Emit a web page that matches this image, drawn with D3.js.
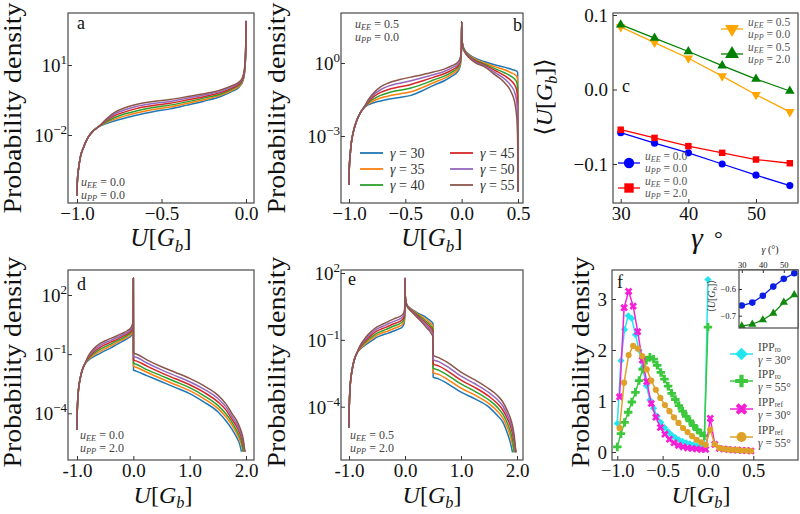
<!DOCTYPE html>
<html><head><meta charset="utf-8">
<script src="https://cdn.jsdelivr.net/npm/d3@7"></script>
<style>html,body{margin:0;padding:0;background:#fff;} svg{display:block;}</style>
</head><body>
<svg id="fig" width="800" height="514" xmlns="http://www.w3.org/2000/svg"></svg>
<script>
// ================= DATA =================
const gammaLabels = ["30", "35", "40", "45", "50", "55"];
const curveColors = ["#1f77b4", "#ff7f0e", "#2ca02c", "#d62728", "#9467bd", "#8c564b"];

// ---- panel a : uEE=0.0, uPP=0.0 (log10 of probability density) ----
const aU = [-1.0, -0.998, -0.99, -0.98, -0.96, -0.93, -0.9, -0.87, -0.83, -0.78, -0.72, -0.65, -0.55, -0.45, -0.35, -0.25, -0.15, -0.08, -0.04, -0.02, -0.01, -0.004, -0.001, 0.0];
const aLog30 = [-4.6, -4.0, -3.4, -2.95, -2.5, -2.05, -1.8, -1.63, -1.52, -1.40, -1.28, -1.15, -1.00, -0.88, -0.72, -0.55, -0.35, -0.12, 0.06, 0.28, 0.58, 1.08, 1.90, 2.88];
const aLog35 = [-4.6, -4.0, -3.4, -2.95, -2.5, -2.05, -1.8, -1.63, -1.48, -1.33, -1.19, -1.06, -0.91, -0.80, -0.65, -0.49, -0.29, -0.07, 0.10, 0.32, 0.62, 1.12, 1.94, 2.88];
const aLog40 = [-4.6, -4.0, -3.4, -2.95, -2.5, -2.05, -1.8, -1.63, -1.45, -1.26, -1.10, -0.97, -0.82, -0.72, -0.58, -0.42, -0.24, -0.02, 0.15, 0.36, 0.66, 1.16, 1.98, 2.89];
const aLog45 = [-4.6, -4.0, -3.4, -2.95, -2.5, -2.05, -1.8, -1.63, -1.41, -1.18, -1.02, -0.87, -0.74, -0.64, -0.50, -0.36, -0.18, 0.02, 0.19, 0.40, 0.70, 1.20, 2.02, 2.89];
const aLog50 = [-4.6, -4.0, -3.4, -2.95, -2.5, -2.05, -1.8, -1.63, -1.38, -1.11, -0.93, -0.78, -0.65, -0.56, -0.43, -0.29, -0.13, 0.07, 0.24, 0.44, 0.74, 1.24, 2.06, 2.90];
const aLog55 = [-4.6, -4.0, -3.4, -2.95, -2.5, -2.05, -1.8, -1.63, -1.34, -1.04, -0.84, -0.69, -0.56, -0.48, -0.36, -0.23, -0.07, 0.12, 0.28, 0.48, 0.78, 1.28, 2.10, 2.90];

// ---- panel b : uEE=0.5, uPP=0.0 ----
const bU = [-1.0, -0.998, -0.99, -0.98, -0.96, -0.93, -0.9, -0.87, -0.83, -0.78, -0.72, -0.65, -0.55, -0.45, -0.35, -0.25, -0.15, -0.08, -0.04, -0.02, -0.008, -0.002, 0.0, 0.003, 0.01, 0.03, 0.07, 0.12, 0.2, 0.3, 0.38, 0.44, 0.47, 0.49, 0.497, 0.5];
const bLog30 = [-5.0, -4.4, -3.8, -3.3, -2.8, -2.35, -2.05, -1.85, -1.72, -1.63, -1.56, -1.49, -1.42, -1.33, -1.14, -0.92, -0.72, -0.52, -0.38, -0.22, 0.02, 0.52, 1.7, 1.0, 0.72, 0.52, 0.34, 0.2, 0.06, -0.08, -0.17, -0.26, -0.3, -0.34, -0.4, -5.3];
const bLog35 = [-5.0, -4.4, -3.8, -3.3, -2.8, -2.35, -2.05, -1.85, -1.68, -1.55, -1.44, -1.36, -1.27, -1.18, -1.01, -0.81, -0.62, -0.44, -0.30, -0.15, 0.08, 0.56, 1.7, 0.99, 0.71, 0.5, 0.31, 0.16, 0.0, -0.16, -0.28, -0.40, -0.47, -0.55, -0.7, -5.3];
const bLog40 = [-5.0, -4.4, -3.8, -3.3, -2.8, -2.35, -2.05, -1.85, -1.64, -1.47, -1.33, -1.22, -1.12, -1.03, -0.88, -0.70, -0.53, -0.35, -0.22, -0.08, 0.14, 0.60, 1.7, 0.98, 0.7, 0.48, 0.28, 0.12, -0.04, -0.24, -0.4, -0.55, -0.66, -0.8, -1.05, -5.3];
const bLog45 = [-5.0, -4.4, -3.8, -3.3, -2.8, -2.35, -2.05, -1.85, -1.60, -1.38, -1.21, -1.09, -0.98, -0.88, -0.74, -0.59, -0.43, -0.27, -0.15, -0.02, 0.20, 0.64, 1.7, 0.97, 0.68, 0.46, 0.25, 0.09, -0.08, -0.32, -0.52, -0.73, -0.9, -1.15, -1.5, -5.3];
const bLog50 = [-5.0, -4.4, -3.8, -3.3, -2.8, -2.35, -2.05, -1.85, -1.56, -1.30, -1.10, -0.95, -0.83, -0.73, -0.61, -0.48, -0.34, -0.18, -0.07, 0.05, 0.26, 0.68, 1.7, 0.96, 0.67, 0.44, 0.23, 0.05, -0.11, -0.41, -0.65, -0.95, -1.2, -1.65, -2.2, -5.3];
const bLog55 = [-5.0, -4.4, -3.8, -3.3, -2.8, -2.35, -2.05, -1.85, -1.52, -1.22, -0.98, -0.82, -0.68, -0.58, -0.48, -0.37, -0.24, -0.10, 0.01, 0.12, 0.32, 0.72, 1.7, 0.95, 0.65, 0.42, 0.2, 0.02, -0.15, -0.5, -0.8, -1.2, -1.6, -2.3, -3.2, -5.3];

// ---- panel c : mean U vs gamma ----
const cGamma = [30, 35, 40, 45, 50, 55];
const cEE05PP00 = [0.084, 0.063, 0.042, 0.018, -0.007, -0.030];
const cEE05PP20 = [0.087, 0.069, 0.051, 0.032, 0.014, -0.002];
const cEE00PP00 = [-0.058, -0.072, -0.085, -0.100, -0.115, -0.129];
const cEE00PP20 = [-0.054, -0.065, -0.076, -0.085, -0.094, -0.099];

// ---- panel d : uEE=0.0, uPP=2.0 ----
const dU = [-1.0, -0.998, -0.99, -0.98, -0.96, -0.93, -0.9, -0.86, -0.8, -0.7, -0.6, -0.5, -0.4, -0.3, -0.2, -0.1, -0.05, -0.02, -0.008, -0.002, 0.0, 0.003, 0.05, 0.25, 0.5, 0.75, 1.0, 1.25, 1.5, 1.65, 1.75, 1.83, 1.88, 1.92, 1.95, 1.98];
const dLog30 = [-4.85, -4.2, -3.5, -3.0, -2.5, -2.05, -1.75, -1.5, -1.32, -1.12, -0.97, -0.82, -0.68, -0.52, -0.36, -0.2, -0.1, 0.02, 0.2, 0.6, 2.85, -1.81, -1.86, -2.1, -2.4, -2.7, -3.0, -3.42, -3.92, -4.4, -4.8, -5.2, -5.5, -5.95, null, null];
const dLog35 = [-4.85, -4.2, -3.5, -3.0, -2.5, -2.05, -1.75, -1.5, -1.28, -1.04, -0.87, -0.72, -0.58, -0.43, -0.28, -0.12, -0.02, 0.11, 0.28, 0.66, 2.85, -1.62, -1.66, -1.93, -2.25, -2.55, -2.85, -3.25, -3.75, -4.2, -4.6, -5.0, -5.3, -5.6, -5.95, null];
const dLog40 = [-4.85, -4.2, -3.5, -3.0, -2.5, -2.05, -1.75, -1.5, -1.23, -0.96, -0.77, -0.62, -0.49, -0.34, -0.20, -0.04, 0.07, 0.20, 0.37, 0.73, 2.85, -1.47, -1.51, -1.8, -2.1, -2.4, -2.7, -3.1, -3.6, -4.05, -4.45, -4.85, -5.15, -5.45, -5.95, null];
const dLog45 = [-4.85, -4.2, -3.5, -3.0, -2.5, -2.05, -1.75, -1.5, -1.19, -0.88, -0.68, -0.52, -0.39, -0.26, -0.11, 0.04, 0.15, 0.30, 0.45, 0.79, 2.85, -1.3, -1.34, -1.62, -1.95, -2.25, -2.55, -2.93, -3.42, -3.85, -4.3, -4.65, -4.95, -5.25, -5.6, -5.95];
const dLog50 = [-4.85, -4.2, -3.5, -3.0, -2.5, -2.05, -1.75, -1.5, -1.14, -0.80, -0.58, -0.42, -0.30, -0.17, -0.03, 0.12, 0.24, 0.39, 0.54, 0.86, 2.85, -1.12, -1.16, -1.46, -1.8, -2.1, -2.4, -2.77, -3.25, -3.7, -4.15, -4.5, -4.8, -5.1, -5.45, -5.95];
const dLog55 = [-4.85, -4.2, -3.5, -3.0, -2.5, -2.05, -1.75, -1.5, -1.10, -0.72, -0.48, -0.32, -0.20, -0.08, 0.05, 0.20, 0.32, 0.48, 0.62, 0.92, 2.85, -0.95, -0.99, -1.3, -1.64, -1.93, -2.23, -2.6, -3.08, -3.55, -4.0, -4.35, -4.65, -4.95, -5.3, -5.95];

// ---- panel e : uEE=0.5, uPP=2.0 ----
const eU = [-1.0, -0.998, -0.99, -0.98, -0.96, -0.93, -0.9, -0.86, -0.8, -0.7, -0.6, -0.5, -0.4, -0.3, -0.2, -0.1, -0.05, -0.02, -0.008, -0.002, 0.0, 0.003, 0.01, 0.03, 0.08, 0.15, 0.25, 0.35, 0.42, 0.47, 0.5, 0.503, 0.6, 0.75, 1.0, 1.25, 1.5, 1.65, 1.75, 1.83, 1.88, 1.92, 1.95, 1.98];
const eLog30 = [-4.94, -4.3, -3.6, -3.1, -2.6, -2.15, -1.85, -1.6, -1.42, -1.22, -1.05, -0.88, -0.78, -0.7, -0.6, -0.5, -0.42, -0.3, -0.12, 0.3, 1.76, 1.1, 0.85, 0.6, 0.45, 0.32, 0.18, 0.05, -0.08, -0.18, -0.27, -2.67, -2.75, -2.95, -3.35, -3.65, -4.02, -4.4, -4.7, -5.2, -5.6, -6.05, null, null];
const eLog35 = [-4.94, -4.3, -3.6, -3.1, -2.6, -2.15, -1.85, -1.6, -1.39, -1.15, -0.96, -0.79, -0.68, -0.60, -0.49, -0.39, -0.31, -0.20, -0.02, 0.36, 1.76, 1.09, 0.84, 0.59, 0.43, 0.29, 0.13, -0.03, -0.17, -0.29, -0.39, -2.47, -2.55, -2.76, -3.17, -3.48, -3.86, -4.2, -4.52, -4.95, -5.3, -5.7, -6.05, null];
const eLog40 = [-4.94, -4.3, -3.6, -3.1, -2.6, -2.15, -1.85, -1.6, -1.35, -1.08, -0.88, -0.70, -0.59, -0.49, -0.38, -0.28, -0.20, -0.09, 0.07, 0.43, 1.76, 1.08, 0.83, 0.58, 0.41, 0.26, 0.08, -0.11, -0.27, -0.40, -0.51, -2.27, -2.36, -2.57, -2.98, -3.31, -3.7, -4.03, -4.34, -4.75, -5.1, -5.5, -6.05, null];
const eLog45 = [-4.94, -4.3, -3.6, -3.1, -2.6, -2.15, -1.85, -1.6, -1.32, -1.02, -0.79, -0.60, -0.49, -0.39, -0.28, -0.18, -0.10, 0.01, 0.17, 0.49, 1.76, 1.07, 0.82, 0.57, 0.40, 0.24, 0.02, -0.19, -0.36, -0.50, -0.63, -2.08, -2.17, -2.38, -2.81, -3.14, -3.54, -3.86, -4.16, -4.55, -4.85, -5.2, -5.6, -6.05];
const eLog50 = [-4.94, -4.3, -3.6, -3.1, -2.6, -2.15, -1.85, -1.6, -1.28, -0.95, -0.71, -0.51, -0.40, -0.28, -0.17, -0.07, 0.01, 0.12, 0.26, 0.56, 1.76, 1.06, 0.81, 0.56, 0.38, 0.21, -0.03, -0.27, -0.46, -0.61, -0.75, -1.88, -1.98, -2.19, -2.63, -2.97, -3.37, -3.68, -3.98, -4.38, -4.68, -5.02, -5.45, -6.05];
const eLog55 = [-4.94, -4.3, -3.6, -3.1, -2.6, -2.15, -1.85, -1.6, -1.25, -0.88, -0.62, -0.42, -0.30, -0.18, -0.06, 0.04, 0.12, 0.22, 0.36, 0.62, 1.76, 1.05, 0.8, 0.55, 0.36, 0.18, -0.08, -0.35, -0.55, -0.72, -0.87, -1.69, -1.8, -2.0, -2.45, -2.8, -3.2, -3.5, -3.8, -4.2, -4.5, -4.85, -5.3, -6.05];

// ---- panel f : linear densities ----
const fUro = [-1.0, -0.96, -0.92, -0.88, -0.84, -0.80, -0.76, -0.72, -0.68, -0.64, -0.60, -0.56, -0.52, -0.48, -0.44, -0.40, -0.36, -0.32, -0.28, -0.24, -0.20, -0.16, -0.12, -0.08, -0.04, 0.00];
const fRo30 = [0.56, 1.79, 2.40, 2.67, 2.62, 2.30, 2.00, 1.65, 1.30, 1.02, 0.86, 0.70, 0.58, 0.48, 0.40, 0.33, 0.28, 0.24, 0.21, 0.18, 0.16, 0.14, 0.12, 0.11, 0.10, 3.38];
const fRo55 = [0.10, 0.36, 0.58, 0.78, 0.98, 1.17, 1.40, 1.62, 1.80, 1.86, 1.82, 1.70, 1.56, 1.43, 1.29, 1.15, 1.03, 0.91, 0.80, 0.70, 0.61, 0.52, 0.44, 0.37, 0.32, 2.45];
const fUref = [-0.975, -0.925, -0.875, -0.825, -0.775, -0.725, -0.675, -0.625, -0.575, -0.525, -0.475, -0.425, -0.375, -0.325, -0.275, -0.225, -0.175, -0.125, -0.075, -0.025, 0.025, 0.075, 0.125, 0.175, 0.225, 0.275, 0.325, 0.375, 0.425, 0.475];
const fRef30 = [1.08, 2.83, 3.15, 2.86, 2.36, 1.80, 1.38, 0.95, 0.68, 0.48, 0.35, 0.25, 0.18, 0.13, 0.10, 0.08, 0.07, 0.06, 0.05, 0.05, 0.66, 0.15, 0.07, 0.06, 0.05, 0.04, 0.04, 0.03, 0.03, 0.02];
const fRef55 = [0.47, 1.36, 1.90, 2.08, 2.03, 1.88, 1.62, 1.40, 1.22, 1.06, 0.92, 0.80, 0.68, 0.57, 0.47, 0.39, 0.31, 0.24, 0.19, 0.14, 0.44, 0.15, 0.08, 0.06, 0.05, 0.04, 0.04, 0.03, 0.03, 0.02];
// inset
const insetGamma = [30, 35, 40, 45, 50, 55];
const insetBlue = [-0.662, -0.651, -0.625, -0.591, -0.562, -0.541];
const insetGreen = [-0.739, -0.732, -0.716, -0.691, -0.650, -0.622];

// ================= DRAWING =================
const FONT = "'Liberation Serif','DejaVu Serif','Times New Roman',serif";
const svg = d3.select("#fig");
const defs = svg.append("defs");
const FRAME = "#4a4a4a";

function mkClip(id, box) {
  defs.append("clipPath").attr("id", id).append("rect")
    .attr("x", box.l).attr("y", box.t).attr("width", box.r - box.l).attr("height", box.b - box.t);
}
function frame(g, box, fill) {
  g.append("rect").attr("x", box.l).attr("y", box.t).attr("width", box.r - box.l).attr("height", box.b - box.t)
    .attr("fill", fill || "none").attr("stroke", FRAME).attr("stroke-width", 1.2);
}
function styleAxis(sel, size) {
  sel.select(".domain").remove();
  sel.selectAll(".tick line").attr("stroke", "#333").attr("stroke-width", 1);
  sel.selectAll(".tick text").attr("font-family", FONT).attr("font-size", size).attr("fill", "#111");
}
function xAxis(g, x, box, vals, labels, size, pad) {
  const ax = d3.axisBottom(x).tickValues(vals).tickFormat((d, i) => labels[i])
    .tickSizeInner(-4).tickSizeOuter(0).tickPadding(pad === undefined ? 3.5 : pad);
  const s = g.append("g").attr("transform", `translate(0,${box.b})`).call(ax);
  styleAxis(s, size || 19);
}
function yAxis(g, y, box, vals, labels, size, pad) {
  const ax = d3.axisLeft(y).tickValues(vals).tickFormat((d, i) => labels[i])
    .tickSizeInner(-4).tickSizeOuter(0).tickPadding(pad === undefined ? 5 : pad);
  const s = g.append("g").attr("transform", `translate(${box.l},0)`).call(ax);
  styleAxis(s, size || 19);
}
function logYAxis(g, y, box, exps) {
  const ax = d3.axisLeft(y).tickValues(exps.map(e => Math.pow(10, e))).tickFormat(() => "")
    .tickSizeInner(-4).tickSizeOuter(0);
  const s = g.append("g").attr("transform", `translate(${box.l},0)`).call(ax);
  styleAxis(s, 19);
  exps.forEach(e => {
    const yy = y(Math.pow(10, e));
    const t = g.append("text").attr("x", box.l - 1).attr("y", yy + 7).attr("text-anchor", "end")
      .attr("font-family", FONT).attr("font-size", 19).attr("fill", "#111");
    t.append("tspan").text("10");
    t.append("tspan").attr("font-size", 13).attr("dy", -8).text(e < 0 ? "\u2212" + (-e) : String(e));
  });
}
function yLabel(g, xBase, yc, len) {
  g.append("text").attr("transform", `translate(${xBase},${yc}) rotate(-90)`)
    .attr("text-anchor", "middle").attr("font-family", FONT).attr("font-size", 25).attr("fill", "#111")
    .attr("textLength", len).attr("lengthAdjust", "spacingAndGlyphs").text("Probability density");
}
function uGLabel(g, cx, base, size) {
  const t = g.append("text").attr("x", cx).attr("y", base).attr("text-anchor", "middle")
    .attr("font-family", FONT).attr("font-size", size).attr("fill", "#111");
  t.append("tspan").attr("font-style", "italic").text("U");
  t.append("tspan").text("[");
  t.append("tspan").attr("font-style", "italic").text("G");
  t.append("tspan").attr("font-style", "italic").attr("font-size", size * 0.68).attr("dy", size * 0.22).text("b");
  t.append("tspan").attr("dy", -size * 0.22).text("]");
  return t;
}
function uAnnot(g, x, y, sub, val, size, color) {
  size = size || 12;
  const t = g.append("text").attr("x", x).attr("y", y).attr("font-family", FONT)
    .attr("font-size", size).attr("fill", color || "#444");
  t.append("tspan").attr("font-style", "italic").text("u");
  t.append("tspan").attr("font-style", "italic").attr("font-size", size * 0.7).attr("dy", 2).text(sub);
  t.append("tspan").attr("dy", -2).text(" = " + val);
}
function panelLetter(g, x, y, s) {
  g.append("text").attr("x", x).attr("y", y).attr("font-family", FONT).attr("font-size", 18)
    .attr("fill", "#111").text(s);
}
function densityCurves(g, clipId, x, y, us, series) {
  const line = d3.line().defined(d => d[1] !== null)
    .x(d => x(d[0])).y(d => y(Math.pow(10, d[1]))).curve(d3.curveMonotoneX);
  const cg = g.append("g").attr("clip-path", `url(#${clipId})`);
  series.forEach((vals, i) => {
    cg.append("path").datum(us.map((u, j) => [u, vals[j]])).attr("d", line)
      .attr("fill", "none").attr("stroke", curveColors[i]).attr("stroke-width", 1.5)
      .attr("stroke-linejoin", "round");
  });
}

// ---------- Panel a ----------
{
  const box = {l: 68, r: 254, t: 13, b: 203};
  const x = d3.scaleLinear().domain([-1, 0]).range([77, 246]);
  const y = d3.scaleLog().domain([1e1, 1e-2]).range([65, 135]);
  const g = svg.append("g");
  mkClip("clipA", box);
  densityCurves(g, "clipA", x, y, aU, [aLog30, aLog35, aLog40, aLog45, aLog50, aLog55]);
  frame(g, box);
  xAxis(g, x, box, [-1, -0.5, 0], ["\u22121.0", "\u22120.5", "0.0"]);
  logYAxis(g, y, box, [1, -2]);
  yLabel(g, 20.5, 108, 211);
  uGLabel(g, 161, 246, 25);
  panelLetter(g, 77, 29, "a");
  uAnnot(g, 81, 185.5, "EE", "0.0");
  uAnnot(g, 81, 198.5, "PP", "0.0");
}

// ---------- Panel b ----------
{
  const box = {l: 341, r: 523, t: 13, b: 203};
  const x = d3.scaleLinear().domain([-1, 0.5]).range([349, 518]);
  const y = d3.scaleLog().domain([1e0, 1e-3]).range([63, 136]);
  const g = svg.append("g");
  mkClip("clipB", box);
  densityCurves(g, "clipB", x, y, bU, [bLog30, bLog35, bLog40, bLog45, bLog50, bLog55]);
  frame(g, box);
  xAxis(g, x, box, [-1, -0.5, 0, 0.5], ["\u22121.0", "\u22120.5", "0.0", "0.5"]);
  logYAxis(g, y, box, [0, -3]);
  yLabel(g, 285, 108, 211);
  uGLabel(g, 432, 246, 25);
  panelLetter(g, 513, 31, "b");
  uAnnot(g, 355, 28, "EE", "0.5");
  uAnnot(g, 355, 41, "PP", "0.0");
  // legend
  const rows = [153, 169, 185];
  gammaLabels.forEach((lab, i) => {
    const col = i < 3 ? 0 : 1;
    const yy = rows[i % 3];
    const x0 = col === 0 ? 360 : 450;
    g.append("line").attr("x1", x0).attr("x2", x0 + 23).attr("y1", yy).attr("y2", yy)
      .attr("stroke", curveColors[i]).attr("stroke-width", 1.8);
    const t = g.append("text").attr("x", x0 + 30).attr("y", yy + 4.5).attr("font-family", FONT)
      .attr("font-size", 14).attr("fill", "#333");
    t.append("tspan").attr("font-style", "italic").text("\u03b3");
    t.append("tspan").text(" = " + lab);
  });
}

// ---------- Panel c ----------
{
  const box = {l: 613, r: 798, t: 13, b: 203};
  const x = d3.scaleLinear().domain([30, 50]).range([620.7, 756]);
  const y = d3.scaleLinear().domain([0.1, -0.1]).range([15, 164]);
  const g = svg.append("g");
  mkClip("clipC", box);
  const cg = g.append("g").attr("clip-path", "url(#clipC)");
  const specs = [
    {vals: cEE00PP00, color: "#0000ff", sym: d3.symbolCircle, size: 40, rot: 0},
    {vals: cEE00PP20, color: "#ff0000", sym: d3.symbolSquare, size: 42, rot: 0},
    {vals: cEE05PP00, color: "#ffa500", sym: d3.symbolTriangle, size: 40, rot: 180},
    {vals: cEE05PP20, color: "#008000", sym: d3.symbolTriangle, size: 40, rot: 0},
  ];
  const line = d3.line().x((d, i) => x(cGamma[i])).y(d => y(d));
  specs.forEach(s => {
    cg.append("path").datum(s.vals).attr("d", line).attr("fill", "none").attr("stroke", s.color).attr("stroke-width", 1.3);
    cg.selectAll(null).data(s.vals).enter().append("path")
      .attr("d", d3.symbol(s.sym, s.size))
      .attr("transform", (d, i) => `translate(${x(cGamma[i])},${y(d)}) rotate(${s.rot})`)
      .attr("fill", s.color);
  });
  frame(g, box);
  xAxis(g, x, box, [30, 40, 50], ["30", "40", "50"]);
  yAxis(g, y, box, [0.1, 0.0, -0.1], ["0.1", "0.0", "\u22120.1"]);
  // y label <U[G_b]>
  const t = g.append("text").attr("transform", "translate(552,97) rotate(-90)").attr("text-anchor", "middle")
    .attr("font-family", FONT).attr("font-size", 24).attr("fill", "#111");
  t.append("tspan").text("\u27e8");
  t.append("tspan").attr("font-style", "italic").text("U");
  t.append("tspan").text("[");
  t.append("tspan").attr("font-style", "italic").text("G");
  t.append("tspan").attr("font-style", "italic").attr("font-size", 16).attr("dy", 5).text("b");
  t.append("tspan").attr("dy", -5).text("]\u27e9");
  // x label gamma degree
  g.append("text").attr("x", 697).attr("y", 248).attr("text-anchor", "middle").attr("font-family", FONT)
    .attr("font-size", 30).attr("font-style", "italic").attr("fill", "#111").text("\u03b3");
  g.append("text").attr("x", 714).attr("y", 246).attr("font-family", FONT)
    .attr("font-size", 22).attr("fill", "#111").text("\u00b0");
  panelLetter(g, 622, 92, "c");
  // legends
  const leg = [
    {s: specs[2], lx: 721, ly: 29, tx: 748, b1: 26, b2: 38, ee: "0.5", pp: "0.0"},
    {s: specs[3], lx: 721, ly: 54, tx: 748, b1: 51, b2: 63, ee: "0.5", pp: "2.0"},
    {s: specs[0], lx: 618, ly: 163, tx: 645, b1: 159.5, b2: 171.5, ee: "0.0", pp: "0.0"},
    {s: specs[1], lx: 618, ly: 188, tx: 645, b1: 185, b2: 197, ee: "0.0", pp: "2.0"},
  ];
  leg.forEach(L => {
    g.append("line").attr("x1", L.lx).attr("x2", L.lx + 22).attr("y1", L.ly).attr("y2", L.ly)
      .attr("stroke", L.s.color).attr("stroke-width", 1.3);
    g.append("path").attr("d", d3.symbol(L.s.sym, L.s.size * 2.1))
      .attr("transform", `translate(${L.lx + 11},${L.ly}) rotate(${L.s.rot})`).attr("fill", L.s.color);
    uAnnot(g, L.tx, L.b1, "EE", L.ee, 11.5, "#555");
    uAnnot(g, L.tx, L.b2, "PP", L.pp, 11.5, "#555");
  });
}

// ---------- Panel d ----------
{
  const box = {l: 68, r: 254, t: 270, b: 460};
  const x = d3.scaleLinear().domain([-1, 2]).range([77, 246]);
  const y = d3.scaleLog().domain([1e2, 1e-4]).range([295, 413.3]);
  const g = svg.append("g");
  mkClip("clipD", box);
  densityCurves(g, "clipD", x, y, dU, [dLog30, dLog35, dLog40, dLog45, dLog50, dLog55]);
  frame(g, box);
  xAxis(g, x, box, [-1, 0, 1, 2], ["-1.0", "0.0", "1.0", "2.0"]);
  logYAxis(g, y, box, [2, -1, -4]);
  yLabel(g, 20.5, 362, 211);
  uGLabel(g, 163, 503, 24);
  panelLetter(g, 77, 290, "d");
  uAnnot(g, 80, 439, "EE", "0.0");
  uAnnot(g, 80, 452, "PP", "2.0");
}

// ---------- Panel e ----------
{
  const box = {l: 341, r: 523, t: 270, b: 460};
  const x = d3.scaleLinear().domain([-1, 2]).range([349, 517]);
  const y = d3.scaleLog().domain([1e2, 1e-4]).range([273, 406.7]);
  const g = svg.append("g");
  mkClip("clipE", box);
  densityCurves(g, "clipE", x, y, eU, [eLog30, eLog35, eLog40, eLog45, eLog50, eLog55]);
  frame(g, box);
  xAxis(g, x, box, [-1, 0, 1, 2], ["-1.0", "0.0", "1.0", "2.0"]);
  logYAxis(g, y, box, [2, -1, -4]);
  yLabel(g, 285, 362, 211);
  uGLabel(g, 432, 503, 24);
  panelLetter(g, 348, 285, "e");
  uAnnot(g, 350, 439, "EE", "0.5");
  uAnnot(g, 350, 452, "PP", "2.0");
}

// ---------- Panel f ----------
{
  const box = {l: 612, r: 798, t: 270, b: 460};
  const x = d3.scaleLinear().domain([-1, 0.5]).range([617.3, 753.3]);
  const y = d3.scaleLinear().domain([0, 3]).range([452, 299]);
  const g = svg.append("g");
  mkClip("clipF", box);
  const cg = g.append("g").attr("clip-path", "url(#clipF)");
  const specs = [
    {us: fUro, vals: fRo30, color: "#22e5ef", sym: d3.symbolSquare, size: 26, rot: 45, lsize: 80},
    {us: fUro, vals: fRo55, color: "#3cc83c", sym: d3.symbolCross, size: 40, rot: 0, lsize: 90},
    {us: fUref, vals: fRef30, color: "#f51fd8", sym: d3.symbolCross, size: 36, rot: 45, lsize: 85},
    {us: fUref, vals: fRef55, color: "#dea229", sym: d3.symbolCircle, size: 30, rot: 0, lsize: 80},
  ];
  specs.forEach(s => {
    const line = d3.line().x((d, i) => x(s.us[i])).y(d => y(d));
    cg.append("path").datum(s.vals).attr("d", line).attr("fill", "none").attr("stroke", s.color)
      .attr("stroke-width", 1.5).attr("stroke-linejoin", "round");
    cg.selectAll(null).data(s.vals).enter().append("path")
      .attr("d", d3.symbol(s.sym, s.size))
      .attr("transform", (d, i) => `translate(${x(s.us[i])},${y(d)}) rotate(${s.rot})`)
      .attr("fill", s.color);
  });
  frame(g, box);
  xAxis(g, x, box, [-1, -0.5, 0, 0.5], ["\u22121.0", "\u22120.5", "0.0", "0.5"], 18.5);
  yAxis(g, y, box, [0, 1, 2, 3], ["0", "1", "2", "3"]);
  yLabel(g, 589, 362, 211);
  uGLabel(g, 701, 503, 24);
  panelLetter(g, 617, 288, "f");
  // legend
  const rows = [354, 381, 409, 437];
  const names = [["ro", "30"], ["ro", "55"], ["ref", "30"], ["ref", "55"]];
  specs.forEach((s, i) => {
    const yy = rows[i];
    g.append("line").attr("x1", 730).attr("x2", 753).attr("y1", yy).attr("y2", yy)
      .attr("stroke", s.color).attr("stroke-width", 1.5);
    g.append("path").attr("d", d3.symbol(s.sym, s.lsize))
      .attr("transform", `translate(741.5,${yy}) rotate(${s.rot})`).attr("fill", s.color);
    const t1 = g.append("text").attr("x", 758).attr("y", yy - 3.5).attr("font-family", FONT)
      .attr("font-size", 11.5).attr("fill", "#444");
    t1.append("tspan").text("IPP");
    t1.append("tspan").attr("font-size", 7.5).attr("dy", 1.5).text(names[i][0]);
    const t2 = g.append("text").attr("x", 758).attr("y", yy + 9.5).attr("font-family", FONT)
      .attr("font-size", 11.5).attr("fill", "#444");
    t2.append("tspan").attr("font-style", "italic").text("\u03b3");
    t2.append("tspan").text(" = " + names[i][1] + "\u00b0");
  });
  // inset
  const ib = {l: 739, r: 798, t: 270, b: 328};
  const ix = d3.scaleLinear().domain([30, 55]).range([741.8, 794.3]);
  const iy = d3.scaleLinear().domain([-0.6, -0.7]).range([289, 315.7]);
  const ig = svg.append("g");
  ig.append("rect").attr("x", ib.l).attr("y", ib.t).attr("width", ib.r - ib.l).attr("height", ib.b - ib.t).attr("fill", "#fff");
  mkClip("clipI", ib);
  const icg = ig.append("g").attr("clip-path", "url(#clipI)");
  const ispecs = [
    {vals: insetBlue, color: "#0a1ee6", sym: d3.symbolCircle, size: 34},
    {vals: insetGreen, color: "#0f8a0f", sym: d3.symbolTriangle, size: 30},
  ];
  const iline = d3.line().x((d, i) => ix(insetGamma[i])).y(d => iy(d));
  ispecs.forEach(s => {
    icg.append("path").datum(s.vals).attr("d", iline).attr("fill", "none").attr("stroke", s.color).attr("stroke-width", 1.3);
    icg.selectAll(null).data(s.vals).enter().append("path").attr("d", d3.symbol(s.sym, s.size))
      .attr("transform", (d, i) => `translate(${ix(insetGamma[i])},${iy(d)})`).attr("fill", s.color);
  });
  frame(ig, ib, "none");
  const axT = d3.axisTop(ix).tickValues([30, 40, 50]).tickFormat(d => String(d)).tickSizeInner(-3).tickSizeOuter(0).tickPadding(2.5);
  styleAxis(ig.append("g").attr("transform", `translate(0,${ib.t})`).call(axT), 8.5);
  const axL = d3.axisLeft(iy).tickValues([-0.6, -0.7]).tickFormat(d => d === -0.6 ? "\u22120.6" : "\u22120.7").tickSizeInner(-3).tickSizeOuter(0).tickPadding(3);
  styleAxis(ig.append("g").attr("transform", `translate(${ib.l},0)`).call(axL), 8.5);
  const it = ig.append("text").attr("x", 770).attr("y", 253).attr("text-anchor", "middle")
    .attr("font-family", FONT).attr("font-size", 10).attr("fill", "#222");
  it.append("tspan").attr("font-style", "italic").text("\u03b3");
  it.append("tspan").text(" (\u00b0)");
  const iyl = ig.append("text").attr("transform", "translate(715,296) rotate(-90)").attr("text-anchor", "middle")
    .attr("font-family", FONT).attr("font-size", 10).attr("fill", "#333");
  iyl.append("tspan").text("\u27e8");
  iyl.append("tspan").attr("font-style", "italic").text("U");
  iyl.append("tspan").text("[");
  iyl.append("tspan").attr("font-style", "italic").text("G");
  iyl.append("tspan").attr("font-style", "italic").attr("font-size", 7).attr("dy", 2).text("b");
  iyl.append("tspan").attr("dy", -2).text("]\u27e9");
}
</script>
</body></html>
